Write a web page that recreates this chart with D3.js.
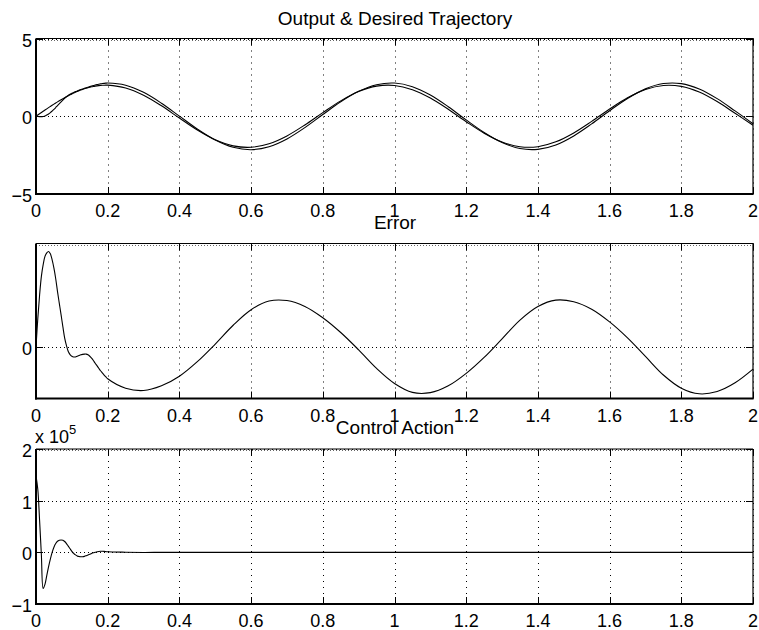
<!DOCTYPE html>
<html>
<head>
<meta charset="utf-8">
<script src="https://cdn.jsdelivr.net/npm/d3@7"></script>
<style>
	body{margin:0;background:#fff;}
	text{font-family:"Liberation Sans", Arial, Helvetica, sans-serif;fill:#000;}
</style>
</head>
<body>
<svg id="fig" width="759" height="630"></svg>
<script>
// time samples (fine at the start, where the transient is)
var tVals = [0,0.005,0.01,0.015,0.02,0.025,0.03,0.035,0.04,0.045,0.05,0.055,0.06,0.065,0.07,0.075,0.08,0.085,0.09,0.095,
	0.1,0.105,0.11,0.115,0.12,0.125,0.13,0.135,0.14,0.145,0.15,0.155,0.16,0.165,0.17,0.175,0.18,0.185,0.19,0.195,0.2,
	0.25,0.3,0.35,0.4,0.45,0.5,0.55,0.6,0.65,0.7,0.75,0.8,0.85,0.9,0.95,1,1.05,1.1,1.15,1.2,1.25,1.3,1.35,1.4,1.45,1.5,
	1.55,1.6,1.65,1.7,1.75,1.8,1.85,1.9,1.95,2];

var desired = [0,0.080,0.160,0.239,0.319,0.397,0.475,0.553,0.629,0.705,0.779,0.852,0.924,0.994,1.062,1.129,1.194,1.258,1.319,1.378,
	1.435,1.489,1.541,1.591,1.638,1.683,1.725,1.764,1.800,1.834,1.864,1.892,1.916,1.937,1.956,1.971,1.983,1.992,1.997,2.000,1.999,
	1.819,1.351,0.670,-0.117,-0.885,-1.514,-1.903,-1.992,-1.767,-1.263,-0.559,0.233,0.988,1.587,1.936,1.979,1.709,1.170,0.446,-0.349,
	-1.088,-1.656,-1.962,-1.958,-1.646,-1.073,-0.332,0.461,1.184,1.720,1.981,1.923,1.559,0.945,0.191,-0.576];

var output = [0,-0.02,-0.03,-0.03,-0.015,0.012,0.075,0.147,0.233,0.335,0.444,0.562,0.689,0.809,0.926,1.044,1.157,1.253,1.339,1.411,
	1.475,1.532,1.584,1.631,1.675,1.717,1.757,1.795,1.831,1.868,1.904,1.940,1.974,2.007,2.036,2.062,2.085,2.103,2.117,2.128,2.135,
	1.995,1.537,0.836,0.008,-0.822,-1.526,-1.995,-2.150,-1.962,-1.460,-0.731,0.109,0.927,1.600,2.028,2.135,1.903,1.365,0.612,-0.236,
	-1.043,-1.690,-2.076,-2.130,-1.845,-1.265,-0.492,0.355,1.146,1.761,2.101,2.099,1.759,1.135,0.344,-0.481];

var errorVals = [0,0.12,0.22,0.30,0.35,0.385,0.40,0.406,0.396,0.37,0.335,0.29,0.235,0.185,0.136,0.085,0.037,0.005,-0.02,-0.033,
	-0.04,-0.043,-0.043,-0.04,-0.037,-0.034,-0.032,-0.031,-0.031,-0.034,-0.04,-0.048,-0.058,-0.07,-0.08,-0.091,-0.102,-0.111,-0.12,-0.128,-0.136,
	-0.176,-0.186,-0.166,-0.125,-0.063,0.012,0.092,0.158,0.195,0.197,0.172,0.124,0.061,-0.013,-0.092,-0.156,-0.194,-0.195,-0.166,-0.113,
	-0.045,0.034,0.114,0.172,0.199,0.192,0.16,0.106,0.038,-0.041,-0.12,-0.176,-0.2,-0.19,-0.153,-0.095];

// control action, in units of 1e5
var control = [1.48,1.22,0.62,-0.05,-0.70,-0.62,-0.45,-0.28,-0.13,0.0,0.1,0.17,0.215,0.235,0.24,0.235,0.21,0.17,0.12,0.07,
	0.02,-0.02,-0.05,-0.07,-0.082,-0.086,-0.085,-0.078,-0.066,-0.052,-0.037,-0.022,-0.01,0.0,0.01,0.016,0.02,0.02,0.018,0.014,0.01,
	0.002,-0.002,0,0,0,0,0,0,0,0,0,0,0,0,0,0,0,0,0,0,
	0,0,0,0,0,0,0,0,0,0,0,0,0,0,0,0];

var xTicks = [0,0.2,0.4,0.6,0.8,1,1.2,1.4,1.6,1.8,2];
var xTickLabels = ["0","0.2","0.4","0.6","0.8","1","1.2","1.4","1.6","1.8","2"];

var outYTicks = [-5,0,5];
var outYLabels = ["\u22125","0","5"];
var errYTicks = [0];
var errYLabels = ["0"];
var ctrlYTicks = [-1,0,1,2];
var ctrlYLabels = ["\u22121","0","1","2"];

var svg = d3.select("#fig");
var left = 36, right = 753;
var tickLen = 7;

var x = d3.scaleLinear().domain([0,2]).range([left,right]);

function drawPanel(p){
	var y = d3.scaleLinear().domain(p.domain).range([p.bottom, p.top]);
	var g = svg.append("g");

	// dotted grid
	g.selectAll(".vg").data(xTicks).enter().append("line")
		.attr("x1", function(d){ return Math.round(x(d)) + 0.5; })
		.attr("x2", function(d){ return Math.round(x(d)) + 0.5; })
		.attr("y1", p.top)
		.attr("y2", p.bottom)
		.attr("stroke", "#000")
		.attr("stroke-width", 1)
		.attr("stroke-dasharray", "1,5");
	g.selectAll(".hg").data(p.yTicks).enter().append("line")
		.attr("x1", left)
		.attr("x2", right)
		.attr("y1", function(d){ return Math.round(y(d)) + 0.5; })
		.attr("y2", function(d){ return Math.round(y(d)) + 0.5; })
		.attr("stroke", "#000")
		.attr("stroke-width", 1)
		.attr("stroke-dasharray", "1,3");
	// dotted edge just inside top box line
	g.append("line")
		.attr("x1", left).attr("x2", right)
		.attr("y1", Math.round(p.top) + 1.5).attr("y2", Math.round(p.top) + 1.5)
		.attr("stroke", "#000").attr("stroke-opacity", 0.6)
		.attr("stroke-dasharray", "1,2");

	// ticks, inward on all four sides
	xTicks.forEach(function(d){
		var xx = Math.round(x(d)) + 0.5;
		g.append("line").attr("x1", xx).attr("x2", xx)
			.attr("y1", p.bottom).attr("y2", p.bottom - tickLen).attr("stroke", "#000");
		g.append("line").attr("x1", xx).attr("x2", xx)
			.attr("y1", p.top).attr("y2", p.top + tickLen).attr("stroke", "#000");
	});
	p.yTicks.forEach(function(d){
		var yy = Math.round(y(d)) + 0.5;
		g.append("line").attr("x1", left).attr("x2", left + tickLen)
			.attr("y1", yy).attr("y2", yy).attr("stroke", "#000");
		g.append("line").attr("x1", right).attr("x2", right - tickLen)
			.attr("y1", yy).attr("y2", yy).attr("stroke", "#000");
	});

	// box
	g.append("line").attr("x1", left).attr("x2", right).attr("y1", p.top).attr("y2", p.top)
		.attr("stroke", "#000").attr("stroke-width", 1.2);
	g.append("line").attr("x1", right).attr("x2", right).attr("y1", p.top).attr("y2", p.bottom)
		.attr("stroke", "#000").attr("stroke-width", 1.2);
	g.append("line").attr("x1", left - 1).attr("x2", right + 0.6).attr("y1", p.bottom).attr("y2", p.bottom)
		.attr("stroke", "#000").attr("stroke-width", 2);
	g.append("line").attr("x1", left).attr("x2", left).attr("y1", p.top).attr("y2", p.bottom + 1)
		.attr("stroke", "#000").attr("stroke-width", 2);

	// curves
	var line = d3.line()
		.x(function(d, i){ return x(tVals[i]); })
		.y(function(d){ return y(d); })
		.curve(d3.curveCatmullRom.alpha(0.5));
	p.series.forEach(function(s){
		g.append("path")
			.attr("d", line(s))
			.attr("fill", "none")
			.attr("stroke", "#000")
			.attr("stroke-width", 1.1);
	});

	// tick labels
	g.selectAll(".xl").data(xTicks).enter().append("text")
		.attr("x", function(d){ return x(d); })
		.attr("y", p.bottom + 23)
		.attr("text-anchor", "middle")
		.attr("font-size", 18)
		.text(function(d, i){ return xTickLabels[i]; });
	g.selectAll(".yl").data(p.yTicks).enter().append("text")
		.attr("x", left - 4)
		.attr("y", function(d){ return y(d) + 8; })
		.attr("text-anchor", "end")
		.attr("font-size", 18)
		.text(function(d, i){ return p.yLabels[i]; });

	// title
	g.append("text")
		.attr("x", 395)
		.attr("y", p.titleY)
		.attr("text-anchor", "middle")
		.attr("font-size", 19)
		.text(p.title);
}

drawPanel({top: 38.5, bottom: 194, domain: [-5,5], yTicks: outYTicks, yLabels: outYLabels,
	series: [desired, output], title: "Output & Desired Trajectory", titleY: 25});
drawPanel({top: 243.5, bottom: 398.5, domain: [-0.22,0.44], yTicks: errYTicks, yLabels: errYLabels,
	series: [errorVals], title: "Error", titleY: 229});
drawPanel({top: 449, bottom: 604, domain: [-1,2], yTicks: ctrlYTicks, yLabels: ctrlYLabels,
	series: [control], title: "Control Action", titleY: 434});

// exponent label for the bottom axis
var ex = svg.append("text").attr("x", 35).attr("y", 443).attr("font-size", 18);
ex.append("tspan").text("x 10");
ex.append("tspan").attr("dy", -9).attr("font-size", 13).text("5");
</script>
</body>
</html>
